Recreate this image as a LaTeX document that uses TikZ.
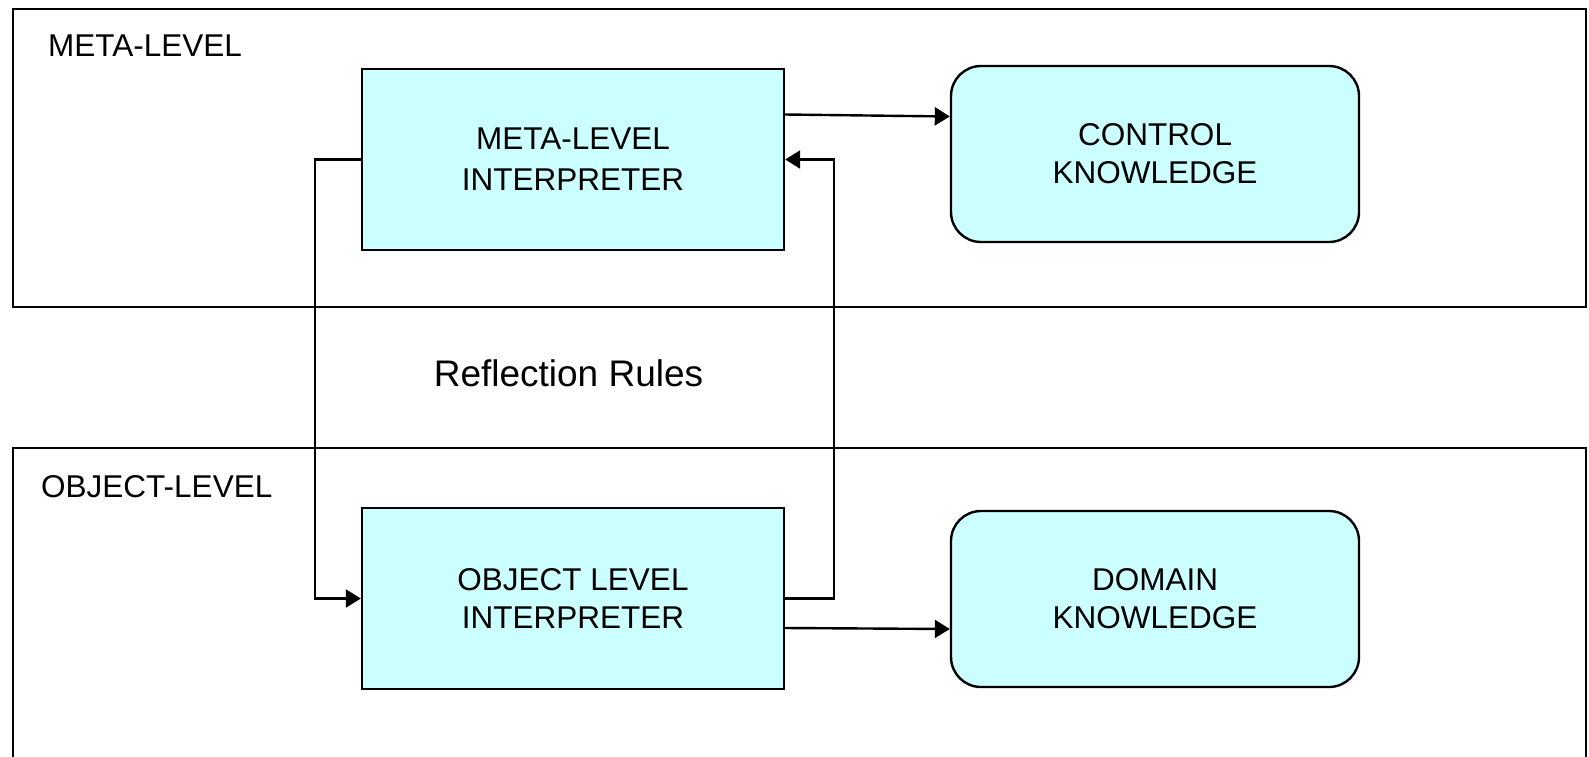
\documentclass[tikz,border=0pt]{standalone}
\usepackage{fontspec}
\setmainfont{Liberation Sans}
\usetikzlibrary{arrows.meta}
\definecolor{boxfill}{HTML}{CCFFFF}
\tikzset{
  frame/.style={draw=black, line width=2.4pt, rectangle, inner sep=0pt},
  sqbox/.style={draw=black, fill=boxfill, line width=2.4pt, rectangle, minimum width=422pt, minimum height=181pt, inner sep=0pt, align=center, font=\fontsize{31.5}{38}\selectfont},
  rbox/.style={draw=black, fill=boxfill, line width=2.4pt, rectangle, rounded corners=30pt, minimum width=408pt, minimum height=176pt, inner sep=0pt, align=center, font=\fontsize{31.5}{38}\selectfont},
  lbl/.style={inner sep=0pt, anchor=west, font=\fontsize{31.5}{38}\selectfont},
  conn/.style={draw=black, line width=2.4pt, -{Triangle[length=15pt,width=18pt]}},
}
\begin{document}
\begin{tikzpicture}[x=1pt, y=-1pt]
\useasboundingbox (0,0) rectangle (1589,756);
\clip (0,0) rectangle (1589,756);
\fill[white] (0,0) rectangle (1589,756);
% frames
\node[frame, minimum width=1573pt, minimum height=298pt] (meta) at (799.5,158) {};
\node[frame, minimum width=1573pt, minimum height=400pt] (obj) at (799.5,648) {};
\node[lbl] (metalbl) at (48,46) {META-LEVEL};
\node[lbl] (objlbl) at (41,486.5) {OBJECT-LEVEL};
\node[inner sep=0pt, font=\fontsize{37}{44}\selectfont] (refl) at (568.5,373) {Reflection Rules};
% boxes
\node[sqbox, font=\fontsize{31.5}{41}\selectfont] (mi) at (573,159.5) {META-LEVEL\\INTERPRETER};
\node[rbox] (ck) at (1155,154) {CONTROL\\KNOWLEDGE};
\node[sqbox] (oi) at (573,598.5) {OBJECT LEVEL\\INTERPRETER};
\node[rbox] (dk) at (1155,599) {DOMAIN\\KNOWLEDGE};
% connectors
\draw[conn] ([yshift=45pt]mi.east) -- ([yshift=37.5pt]ck.west);
\draw[conn] (mi.west) -- ++(-46,0) |- (oi.west);
\draw[conn] (oi.east) -- ++(49,0) |- (mi.east);
\draw[conn] ([yshift=-29.5pt]oi.east) -- ([yshift=-30pt]dk.west);
\end{tikzpicture}
\end{document}
